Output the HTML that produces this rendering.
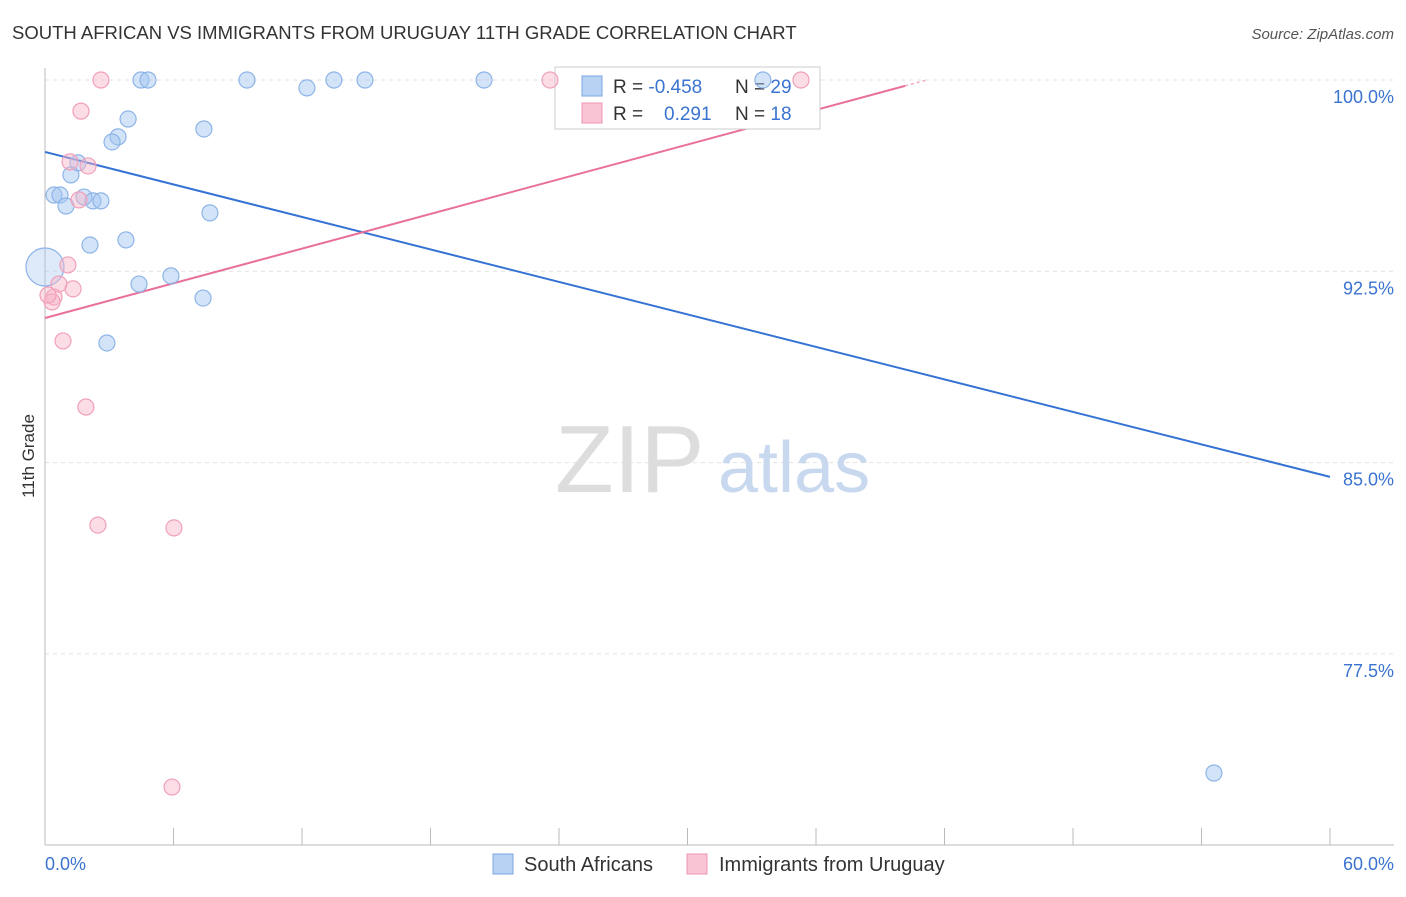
<!DOCTYPE html>
<html><head><meta charset="utf-8"><style>
body{margin:0;background:#fff;font-family:"Liberation Sans",sans-serif;}
svg text{font-family:"Liberation Sans",sans-serif;}
</style></head><body>
<svg id="chart" width="1406" height="892" viewBox="0 0 1406 892">
<text x="12" y="39" font-size="18.5" fill="#333">SOUTH AFRICAN VS IMMIGRANTS FROM URUGUAY 11TH GRADE CORRELATION CHART</text>
<text x="1394" y="39" font-size="15" fill="#555" font-style="italic" text-anchor="end">Source: ZipAtlas.com</text>
<g id="grid"></g>
<g id="axes"></g>
<text x="555" y="492" font-size="96" fill="#ddd" font-family="Liberation Serif">ZIP</text>
<text x="718" y="492" font-size="72" fill="#c8d8ee">atlas</text>
<g id="lines"></g>
<text transform="translate(34,456) rotate(-90)" font-size="17" fill="#333" text-anchor="middle">11th Grade</text>
<g>
<rect x="555" y="67" width="265" height="62" fill="#fff" stroke="#ccc"/>
<rect x="582" y="76" width="20" height="20" fill="#b8d2f4" stroke="#7aa6e0"/>
<rect x="582" y="103" width="20" height="20" fill="#f9c4d4" stroke="#ee94b0"/>
<text x="613" y="93" font-size="19" fill="#333">R = <tspan fill="#3b73d0">-0.458</tspan></text>
<text x="735" y="93" font-size="19" fill="#333">N = <tspan fill="#3b73d0">29</tspan></text>
<text x="613" y="120" font-size="19" fill="#333">R = </text>
<text x="664" y="120" font-size="19" fill="#3b73d0">0.291</text>
<text x="735" y="120" font-size="19" fill="#333">N = <tspan fill="#3b73d0">18</tspan></text>
</g>
<g id="points"></g>
<g>
<rect x="493" y="854" width="20" height="20" fill="#b8d2f4" stroke="#7aa6e0"/>
<text x="524" y="871" font-size="20" fill="#333">South Africans</text>
<rect x="687" y="854" width="20" height="20" fill="#f9c4d4" stroke="#ee94b0"/>
<text x="719" y="871" font-size="20" fill="#333">Immigrants from Uruguay</text>
</g>
</svg>
<script>
const blueX=[4.48,4.81,9.43,13.49,14.94,20.50,33.52,12.23,3.88,7.42,3.41,3.13,1.54,1.21,0.42,0.70,1.82,2.24,2.61,0.98,7.70,3.78,2.10,5.88,4.39,7.38,2.89,0.0,54.58];
const blueY=[100,100,100,100,100,100,100,99.69,98.47,98.08,97.77,97.57,96.75,96.28,95.49,95.49,95.41,95.26,95.26,95.06,94.79,93.73,93.53,92.32,92.00,91.45,89.69,92.67,72.83];
const pinkX=[2.61,23.58,35.30,1.68,1.17,2.01,1.59,1.07,0.65,1.31,0.42,0.33,0.84,1.91,2.47,6.02,5.93,0.14];
const pinkY=[100,100,100,98.78,96.79,96.63,95.30,92.75,92.00,91.81,91.49,91.30,89.77,87.18,82.55,82.44,72.28,91.57];
const blueTrend=[97.18,84.44];
const pinkTrend=[90.67,0.2266];
const yTicks=[100,92.5,85,77.5];
const xTickLabels=["0.0%","60.0%"];
const NS="http://www.w3.org/2000/svg";
const sx=v=>45+v/60*1285;
const sy=v=>80+(100-v)/7.5*191.3;
function mk(tag,attrs,parent){const e=document.createElementNS(NS,tag);for(const k in attrs)e.setAttribute(k,attrs[k]);parent.appendChild(e);return e;}
const grid=document.getElementById('grid'),axes=document.getElementById('axes'),pts=document.getElementById('points'),lines=document.getElementById('lines');
yTicks.forEach(t=>{
 const l=mk('line',{x1:45,x2:1394,y1:sy(t),y2:sy(t),stroke:'#e2e2e2','stroke-dasharray':'4,4'},grid);
 
 
 const tx=mk('text',{x:1394,y:sy(t)+23,'font-size':18,fill:'#3b73d0','text-anchor':'end'},axes);
 tx.textContent=t.toFixed(1)+'%';
 
 
});
mk('line',{x1:45,x2:45,y1:68,y2:845,stroke:'#bbb'},axes);
mk('line',{x1:45,x2:1394,y1:845,y2:845,stroke:'#bbb'},axes);
for(let i=0;i<=10;i++){const t=mk('line',{x1:sx(i*6),x2:sx(i*6),y1:828,y2:845,stroke:'#bbb'},axes);
 
 }
const xl0=mk('text',{x:45,y:870,'font-size':18,fill:'#3b73d0'},axes);xl0.textContent=xTickLabels[0];


const xl1=mk('text',{x:1394,y:870,'font-size':18,fill:'#3b73d0','text-anchor':'end'},axes);xl1.textContent=xTickLabels[1];


blueX.forEach((x,i)=>{const big=(x===0);const c=mk('circle',{cx:sx(x),cy:sy(blueY[i]),r:(big?19:8),fill:big?'rgba(160,195,240,0.35)':'rgba(160,195,240,0.45)',stroke:'#8db4e8','stroke-width':1.2},pts);
 
 });
pinkX.forEach((x,i)=>{const c=mk('circle',{cx:sx(x),cy:sy(pinkY[i]),r:8,fill:'rgba(248,180,200,0.45)',stroke:'#f0a0ba','stroke-width':1.2},pts);
 
 });
const bl=mk('line',{x1:sx(0),y1:sy(blueTrend[0]),x2:sx(60),y2:sy(blueTrend[1]),stroke:'#3472d4','stroke-width':2},lines);


const pl=mk('line',{x1:sx(0),y1:sy(pinkTrend[0]),x2:sx(40.16),y2:sy(pinkTrend[0]+pinkTrend[1]*40.16),stroke:'#e8709a','stroke-width':2},lines);


const pd=mk('line',{x1:sx(40.16),y1:sy(pinkTrend[0]+pinkTrend[1]*40.16),x2:sx(41.2),y2:sy(pinkTrend[0]+pinkTrend[1]*41.2),stroke:'#f0a8c0','stroke-width':1.5,'stroke-dasharray':'3,3'},lines);


</script>
</body></html>
